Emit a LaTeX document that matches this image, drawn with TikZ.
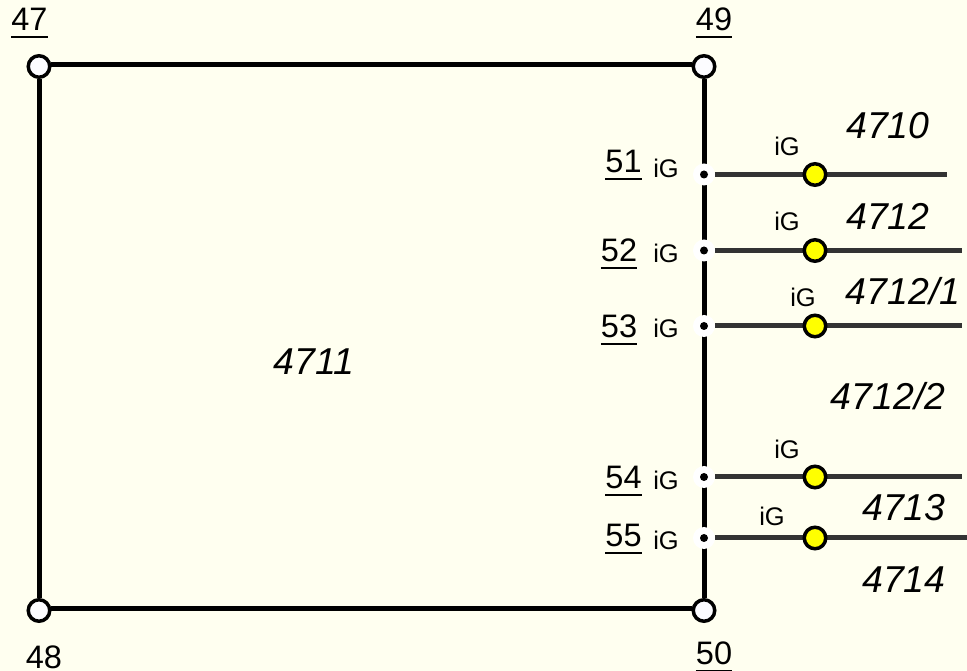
\documentclass[tikz,border=0pt]{standalone}
\usepackage{fontspec}
\setmainfont{Liberation Sans}
\usetikzlibrary{positioning}
\definecolor{paper}{HTML}{FFFFF0}
\definecolor{stubgray}{HTML}{333333}
\definecolor{valveyellow}{HTML}{FFFF00}
\definecolor{cornerwhite}{HTML}{FCFCFF}
\newcommand{\numline}[1]{\setbox0\hbox{#1}\rlap{\smash{\rule[-0.24em]{\wd0}{0.07em}}}#1}
\tikzset{
  wall/.style={line width=0.1cm, draw=black},
  wallh/.style={wall, transform canvas={yshift=0.036cm}},
  stub/.style={line width=0.1cm, draw=stubgray},
  corner/.style={
    circle, draw=black, line width=0.07cm, fill=cornerwhite,
    minimum size=0.43cm, inner sep=0pt
  },
  junction/.style={circle, fill=white, minimum size=0.44cm, inner sep=0pt},
  dot/.style={circle, fill=black, minimum size=0.16cm, inner sep=0pt},
  valve/.style={
    circle, draw=black, line width=0.07cm, fill=valveyellow,
    minimum size=0.43cm, inner sep=0pt
  },
  number/.style={anchor=base, inner sep=0pt, font=\fontsize{18.5}{20}\selectfont},
  tag/.style={anchor=base, inner sep=0pt, font=\fontsize{14.5}{16}\selectfont},
  parcel/.style={anchor=base, inner sep=0pt, font=\fontsize{21.3}{24}\selectfont\itshape}
}

\begin{document}
\begin{tikzpicture}[x=0.02cm, y=-0.02cm]
    \useasboundingbox (0,0) rectangle (967,671);
    \fill[paper] (0,0) rectangle (967,671);

    % Corner points
    \node[corner] (n47) at (39,66.5) {};
    \node[corner] (n48) at (39,610.5) {};
    \node[corner] (n49) at (704,66.5) {};
    \node[corner] (n50) at (704,610.5) {};
    \draw[wallh] (n47) -- (n49);
    \draw[wall] (n49) -- (n50);
    \draw[wallh] (n50) -- (n48);
    \draw[wall] (n48) -- (n47);

    \node[number] (l47) at (29.5,30.5) {\numline{47}};
    \node[number] (l48) at (44,668.5) {\numline{48}};
    \node[number] (l49) at (714,30.5) {\numline{49}};
    \node[number] (l50) at (714,664.5) {\numline{50}};

    % Junctions on the right side
    \node[junction] (j51) at (704,174.5) {};
    \node[junction] (j52) at (704,250.5) {};
    \node[junction] (j53) at (704,326) {};
    \node[junction] (j54) at (704,477) {};
    \node[junction] (j55) at (704,538) {};
    \node[dot] (d51) at (j51) {};
    \node[dot] (d52) at (j52) {};
    \node[dot] (d53) at (j53) {};
    \node[dot] (d54) at (j54) {};
    \node[dot] (d55) at (j55) {};

    % Outgoing lines
    \coordinate (e51) at (947,174.5);
    \coordinate (e52) at (962,250.5);
    \coordinate (e53) at (962,326);
    \coordinate (e54) at (962,477);
    \coordinate (e55) at (967,538);
    \draw[stub] (j51) -- (e51);
    \draw[stub] (j52) -- (e52);
    \draw[stub] (j53) -- (e53);
    \draw[stub] (j54) -- (e54);
    \draw[stub] (j55) -- (e55);

    \node[valve] (v51) at (815,174.5) {};
    \node[valve] (v52) at (815,250.5) {};
    \node[valve] (v53) at (815,326) {};
    \node[valve] (v54) at (815,477) {};
    \node[valve] (v55) at (815,538) {};

    % Numbers and iG marks beside the junctions
    \node[number] (l51) at (623.5,172.5) {\numline{51}};
    \node[number] (l52) at (619,261.5) {\numline{52}};
    \node[number] (l53) at (619,337.5) {\numline{53}};
    \node[number] (l54) at (623.5,488.5) {\numline{54}};
    \node[number] (l55) at (623.5,546.5) {\numline{55}};

    \node[tag] (g51) at (666,177.5) {iG};
    \node[tag] (g52) at (666,262.5) {iG};
    \node[tag] (g53) at (666,337.5) {iG};
    \node[tag] (g54) at (666,489.5) {iG};
    \node[tag] (g55) at (666,549.5) {iG};

    \node[tag] (t51) at (787,155.5) {iG};
    \node[tag] (t52) at (787,230.5) {iG};
    \node[tag] (t53) at (803,306.5) {iG};
    \node[tag] (t54) at (787,458.5) {iG};
    \node[tag] (t55) at (772,525.5) {iG};

    % Parcel numbers
    \node[parcel] (p4711) at (314,374.5) {4711};
    \node[parcel] (p4710) at (888,138.5) {4710};
    \node[parcel] (p4712) at (888,229.5) {4712};
    \node[parcel] (p47121) at (903,304.5) {4712/1};
    \node[parcel] (p47122) at (888,409.5) {4712/2};
    \node[parcel] (p4713) at (904,520.5) {4713};
    \node[parcel] (p4714) at (904,592.5) {4714};
\end{tikzpicture}
\end{document}
